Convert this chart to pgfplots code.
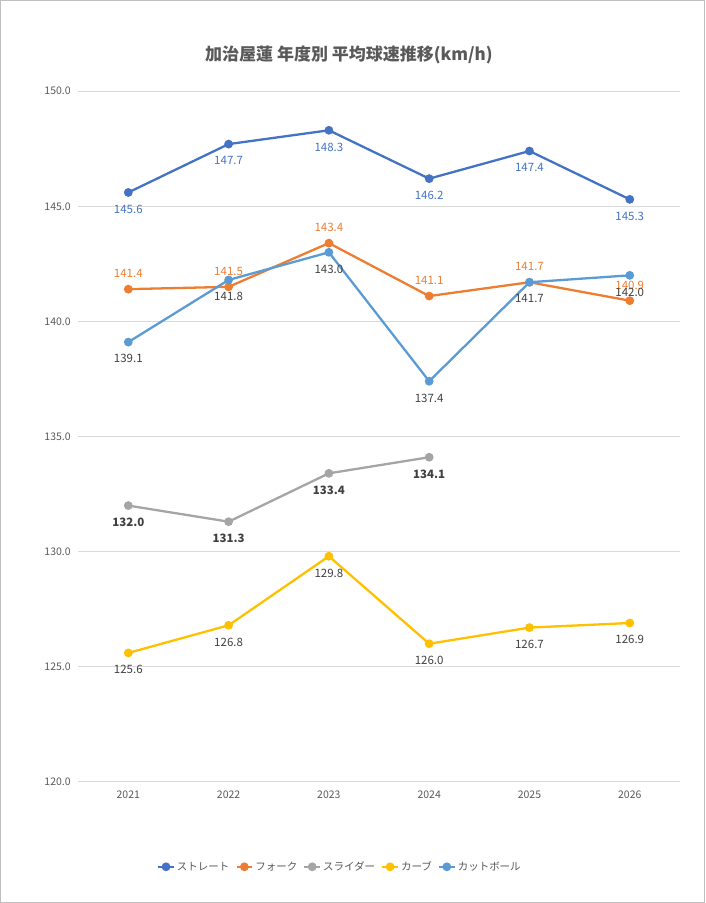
\documentclass[border=0pt]{standalone}
\usepackage{pgfplots}
\pgfplotsset{compat=1.18}
\usepackage{fontspec}
\setmainfont{Noto Sans CJK JP}
\definecolor{c1}{HTML}{4472C4}
\definecolor{c2}{HTML}{ED7D31}
\definecolor{c3}{HTML}{A5A5A5}
\definecolor{c4}{HTML}{FFC000}
\definecolor{c5}{HTML}{5B9BD5}
\definecolor{tx}{HTML}{595959}
\definecolor{lb}{HTML}{404040}
\begin{document}
\begin{tikzpicture}
\draw[white] (0,0) rectangle (705bp,903bp);
\begin{axis}[at={(78bp,121bp)},anchor=south west,
 scale only axis, width=602bp, height=691bp,
 xmin=-0.5, xmax=5.5, ymin=120, ymax=150,
 xtick={0,...,5}, xticklabels={2021,2022,2023,2024,2025,2026},
 ytick={120,125,...,150},
 yticklabel style={/pgf/number format/fixed,/pgf/number format/precision=1,/pgf/number format/zerofill, xshift=-4bp},
 /pgf/number format/assume math mode=true,
 ticklabel style={font=\fontsize{10.5bp}{12bp}\selectfont, text=tx},
 xticklabel style={yshift=-6bp},
 major tick length=0pt,
 axis line style={draw=none},
 ymajorgrids, grid style={draw=gray!30, line width=0.8pt},
 every axis plot/.append style={line width=2.3pt, mark=*, mark size=3.2pt},
 nodes near coords,
 point meta=explicit symbolic,
 every node near coord/.append style={font=\fontsize{11.5bp}{13bp}\selectfont},
 legend style={at={(0.435,-0.123)}, anchor=center, draw=none, legend columns=5,
   font=\fontsize{10.5bp}{12bp}\selectfont, text=tx, /tikz/every even column/.append style={column sep=4bp}},
 legend image code/.code={\draw[#1] (0cm,0cm) -- (0.55cm,0cm); \draw[#1,mark repeat=1] plot coordinates {(0.275cm,0cm)};},
 title={\bfseries 加治屋蓮 年度別 平均球速推移(km/h)},
 title style={font=\fontsize{17bp}{20bp}\selectfont, text=tx, at={(0.45,1)}, yshift=18bp},
 clip=false]
\addplot[c1, every node near coord/.append style={text=c1, anchor=north, yshift=-8bp}] coordinates {(0,145.6)[145.6] (1,147.7)[147.7] (2,148.3)[148.3] (3,146.2)[146.2] (4,147.4)[147.4] (5,145.3)[145.3]};
\addlegendentry{ストレート}
\addplot[c2, every node near coord/.append style={text=c2, anchor=south, yshift=7bp}] coordinates {(0,141.4)[141.4] (1,141.5)[141.5] (2,143.4)[143.4] (3,141.1)[141.1] (4,141.7)[141.7] (5,140.9)[140.9]};
\addlegendentry{フォーク}
\addplot[c3, every node near coord/.append style={text=lb, font=\fontsize{11.5bp}{13bp}\selectfont\bfseries, anchor=north, yshift=-8bp}] coordinates {(0,132.0)[132.0] (1,131.3)[131.3] (2,133.4)[133.4] (3,134.1)[134.1]};
\addlegendentry{スライダー}
\addplot[c4, every node near coord/.append style={text=lb, anchor=north, yshift=-8bp}] coordinates {(0,125.6)[125.6] (1,126.8)[126.8] (2,129.8)[129.8] (3,126.0)[126.0] (4,126.7)[126.7] (5,126.9)[126.9]};
\addlegendentry{カーブ}
\addplot[c5, every node near coord/.append style={text=lb, anchor=north, yshift=-8bp}] coordinates {(0,139.1)[139.1] (1,141.8)[141.8] (2,143.0)[143.0] (3,137.4)[137.4] (4,141.7)[141.7] (5,142.0)[142.0]};
\addlegendentry{カットボール}
\end{axis}
\draw[gray!50, line width=0.8pt] (0.4pt,0.4pt) rectangle (705bp-0.4pt,903bp-0.4pt);
\end{tikzpicture}
\end{document}
